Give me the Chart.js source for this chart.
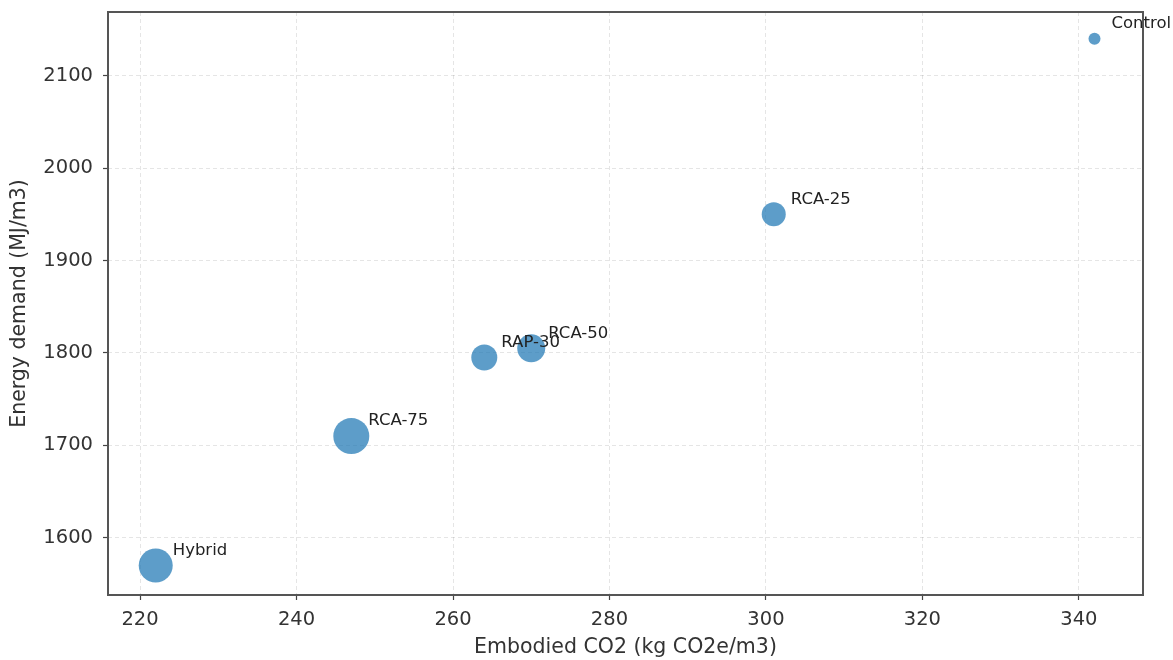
<!DOCTYPE html>
<html>
<head>
<meta charset="utf-8">
<script src="https://cdn.jsdelivr.net/npm/chart.js@4/dist/chart.umd.min.js"></script>
<style>
  html, body { margin: 0; padding: 0; background: #fff; }
  #wrap { width: 1173px; height: 660px; }
</style>
</head>
<body>
<div id="wrap"><canvas id="bubbleChart" width="1173" height="660"></canvas></div>
<script>
    // Mix designs: embodied carbon vs energy demand, bubble size per mix
    const mixNames = ['Control', 'RCA-25', 'RCA-50', 'RAP-30', 'RCA-75', 'Hybrid'];
    const embodiedCO2 = [342, 301, 270, 264, 247, 222];
    const energyDemand = [2140, 1950, 1805, 1795, 1710, 1570];
    const bubbleRadius = [6, 12, 14, 13, 18, 17];
    const xTicks = [220, 240, 260, 280, 300, 320, 340];
    const yTicks = [1600, 1700, 1800, 1900, 2000, 2100];

    const tickFont = { family: 'DejaVu Sans', size: 19.5 };
    const titleFont = { family: 'DejaVu Sans', size: 20.5 };

    // bubble controller that doesn't push the chart area in by the largest radius
    class PlainBubble extends Chart.BubbleController {
      getMaxOverflow() { return 0; }
    }
    PlainBubble.id = 'plainBubble';
    PlainBubble.defaults = Chart.BubbleController.defaults;
    PlainBubble.overrides = Chart.BubbleController.overrides;
    Chart.register(PlainBubble);

    // labels next to each bubble + dark frame round the plot
    const annotate = {
      id: 'annotate',
      afterDatasetsDraw(chart) {
        const ctx = chart.ctx;
        const meta = chart.getDatasetMeta(0);
        ctx.save();
        ctx.font = '16.5px "DejaVu Sans"';
        ctx.fillStyle = '#222';
        ctx.textBaseline = 'middle';
        meta.data.forEach((pt, i) => {
          ctx.fillText(mixNames[i], pt.x + 17, pt.y - 15);
        });
        ctx.restore();
      },
      afterDraw(chart) {
        const a = chart.chartArea;
        const ctx = chart.ctx;
        ctx.save();
        ctx.strokeStyle = '#555';
        ctx.lineWidth = 2;
        ctx.strokeRect(a.left, a.top, a.right - a.left, a.bottom - a.top);
        ctx.restore();
      }
    };

    const gridOpts = { color: 'rgba(0,0,0,0.1)', tickColor: '#444', tickLength: 5, tickWidth: 1.2, lineWidth: 1 };

    const bubbleChart = new Chart(document.getElementById('bubbleChart').getContext('2d'), {
      type: 'plainBubble',
      data: {
        datasets: [
          {
            label: 'Mixes',
            data: mixNames.map((n, i) => ({ x: embodiedCO2[i], y: energyDemand[i], r: bubbleRadius[i] })),
            backgroundColor: 'rgba(31,119,180,0.72)',
            borderColor: 'rgba(31,119,180,0.72)',
            borderWidth: 0,
            hoverRadius: 0,
            clip: false
          }
        ]
      },
      plugins: [annotate],
      options: {
        responsive: false,
        animation: false,
        layout: { padding: { top: 12, right: 30, left: 0, bottom: 0 } },
        plugins: { legend: { display: false }, tooltip: { enabled: false } },
        scales: {
          x: {
            type: 'linear',
            min: 215.9,
            max: 348.2,
            afterBuildTicks: s => { s.ticks = xTicks.map(v => ({ value: v })); },
            afterFit: s => { s.height = 65; s.paddingLeft = 0; s.paddingRight = 0; },
            grid: gridOpts,
            border: { display: false, dash: [4, 3] },
            ticks: { color: '#333', font: tickFont, padding: 8, maxRotation: 0, callback: v => String(v) },
            title: { display: true, text: 'Embodied CO2 (kg CO2e/m3)', color: '#333', font: titleFont, padding: { top: 0, bottom: 0 } }
          },
          y: {
            type: 'linear',
            min: 1538,
            max: 2169,
            afterBuildTicks: s => { s.ticks = yTicks.map(v => ({ value: v })); },
            afterFit: s => { s.width = 108; s.paddingTop = 0; s.paddingBottom = 0; },
            grid: gridOpts,
            border: { display: false, dash: [4, 3] },
            ticks: { color: '#333', font: tickFont, padding: 10, callback: v => String(v) },
            title: { display: true, text: 'Energy demand (MJ/m3)', color: '#333', font: titleFont, padding: { top: 7, bottom: 0 } }
          }
        }
      }
    });
</script>
</body>
</html>
